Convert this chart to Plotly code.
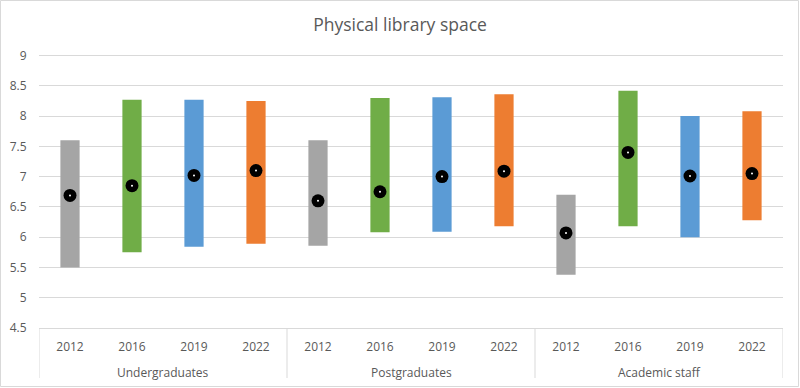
import plotly.graph_objects as go

groups = ["Undergraduates"] * 4 + ["Postgraduates"] * 4 + ["Academic staff"] * 4
years = ["2012", "2016", "2019", "2022"] * 3
high = [7.6, 8.27, 8.27, 8.25, 7.6, 8.30, 8.31, 8.36, 6.70, 8.42, 8.00, 8.08]
low = [5.5, 5.75, 5.84, 5.89, 5.86, 6.08, 6.09, 6.18, 5.38, 6.18, 6.00, 6.28]
mean = [6.69, 6.85, 7.02, 7.10, 6.60, 6.75, 7.00, 7.09, 6.07, 7.40, 7.01, 7.05]
y_ticks = [4.5, 5, 5.5, 6, 6.5, 7, 7.5, 8, 8.5, 9]
year_colors = {"2012": "#A5A5A5", "2016": "#70AD47", "2019": "#5B9BD5", "2022": "#ED7D31"}

colors = [year_colors[y] for y in years]
xpos = list(range(len(years)))

# plot area geometry
W, H = 800, 388
L, R, T, B = 39, 17, 54, 60
PW, PH = W - L - R, H - T - B

fig = go.Figure()
fig.add_trace(go.Bar(
    x=xpos, y=[h - l for h, l in zip(high, low)], base=low,
    marker=dict(color=colors, line=dict(width=0)),
    width=0.31, showlegend=False, hoverinfo="skip",
))
fig.add_trace(go.Scatter(
    x=xpos, y=mean, mode="markers",
    marker=dict(color="black", size=13, line=dict(width=0)),
    showlegend=False,
))
fig.add_trace(go.Scatter(
    x=xpos, y=mean, mode="markers",
    marker=dict(color="white", size=2, line=dict(width=0)),
    showlegend=False, hoverinfo="skip",
))

font_family = "Open Sans, Liberation Sans, Arial, sans-serif"
fig.update_layout(
    template="none",
    width=W, height=H,
    margin=dict(l=L, r=R, t=T, b=B, pad=0),
    paper_bgcolor="white", plot_bgcolor="white",
    font=dict(family=font_family, color="#595959", size=12),
    title=dict(text="Physical library space", x=0.5, xanchor="center",
               y=1 - 25 / H, yanchor="middle", yref="container",
               font=dict(size=17.5, color="#595959", family=font_family)),
    showlegend=False,
)
fig.update_yaxes(
    range=[y_ticks[0], y_ticks[-1] + 0.025], tickvals=y_ticks,
    ticktext=[f"{v:g}" for v in y_ticks],
    showgrid=True, gridcolor="#D9D9D9", gridwidth=1,
    zeroline=False, showline=False, automargin=False,
    ticks="outside", ticklen=9, tickcolor="rgba(0,0,0,0)",
    tickfont=dict(size=12, color="#595959"),
)
fig.update_xaxes(
    range=[-0.5, len(years) - 0.5],
    tickvals=xpos, ticktext=years,
    showline=True, linecolor="#D9D9D9", linewidth=1,
    showgrid=False, zeroline=False, ticks="", automargin=False,
    ticklabelstandoff=8,
    tickfont=dict(size=12, color="#595959"),
)

# group labels and dividers
group_names = list(dict.fromkeys(groups))
for g in group_names:
    idx = [i for i, gg in enumerate(groups) if gg == g]
    center = (idx[0] + idx[-1]) / 2
    fig.add_annotation(x=center, xref="x", y=-(372 - (H - B)) / PH, yref="paper",
                       text=g, showarrow=False, yanchor="middle",
                       font=dict(size=12, color="#595959"))
bounds = [-0.5] + [i + 0.5 for i in range(len(groups) - 1) if groups[i] != groups[i + 1]] + [len(groups) - 0.5]
for b in bounds:
    fig.add_shape(type="line", xref="x", yref="paper", x0=b, x1=b,
                  y0=0, y1=-(378 - (H - B)) / PH,
                  line=dict(color="#D9D9D9", width=1))

fig.add_shape(type="rect", xref="paper", yref="paper",
              x0=-(L - 0.5) / PW, x1=1 + (R - 1.5) / PW, y0=-(B - 1.5) / PH, y1=1 + (T - 0.5) / PH,
              line=dict(color="#D9D9D9", width=1), fillcolor="rgba(0,0,0,0)", layer="below")

fig.write_html("out.html", config={"displayModeBar": False},
               post_script="document.body.style.margin='0';document.body.style.overflow='hidden';")
